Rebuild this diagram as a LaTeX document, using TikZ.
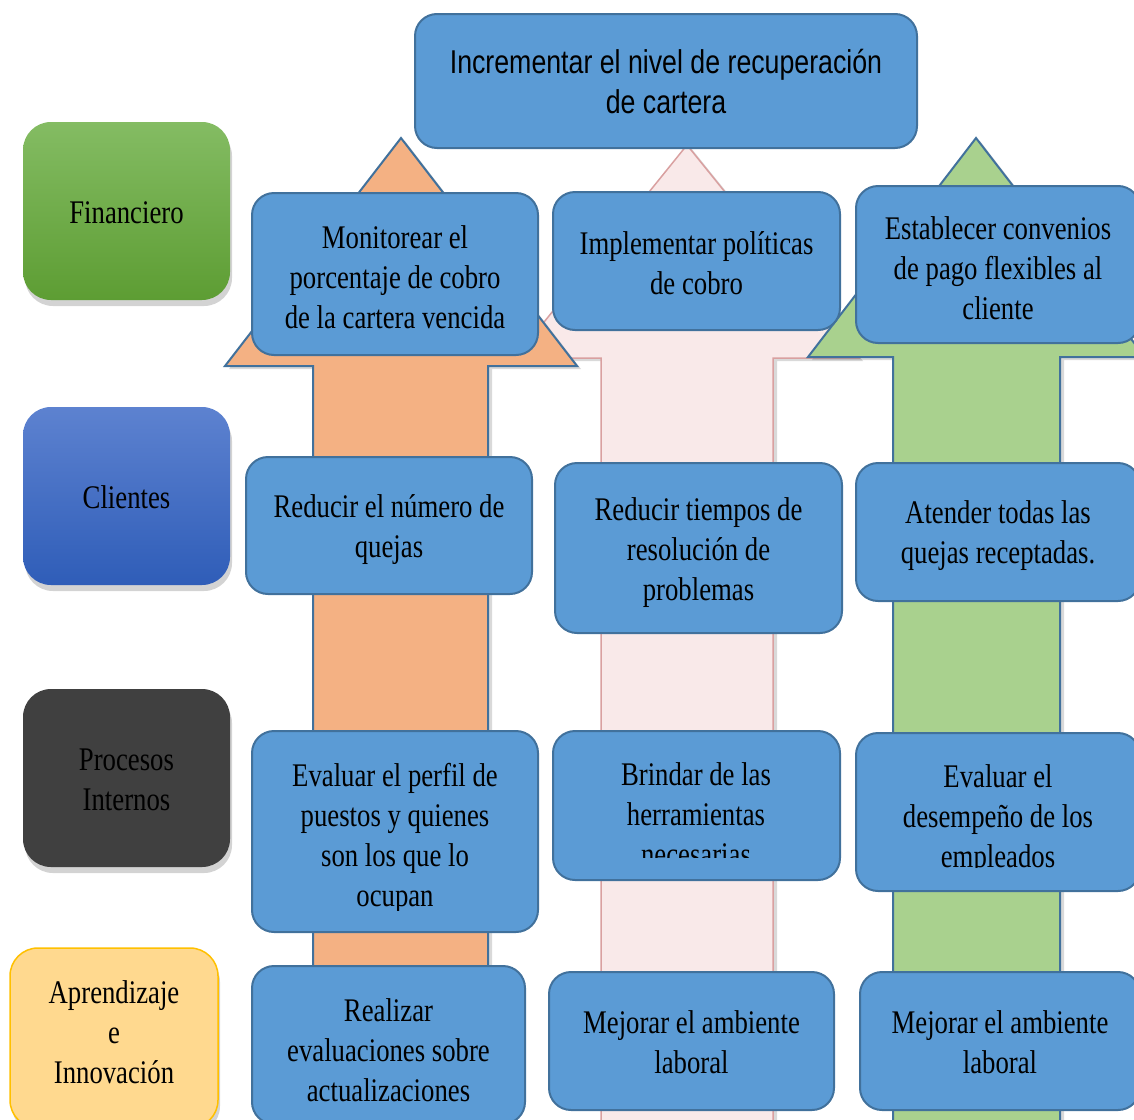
\documentclass[tikz,border=0pt]{standalone}
\usepackage{fontspec}
\setmainfont{Liberation Serif}[FakeStretch=0.81]
\newfontfamily\topfont{Liberation Sans}[FakeStretch=0.81]
\usetikzlibrary{shadows}
\definecolor{boxblue}{HTML}{5B9BD5}
\definecolor{boxedge}{HTML}{41719C}
\definecolor{orangeF}{HTML}{F4B183}
\definecolor{greenF}{HTML}{A9D18E}
\definecolor{pinkF}{HTML}{F9E9E9}
\definecolor{pinkE}{HTML}{D9A0A0}
\definecolor{finTop}{HTML}{84BC63}
\definecolor{finBot}{HTML}{5D9D33}
\definecolor{cliTop}{HTML}{5D82D0}
\definecolor{cliBot}{HTML}{2F5DB8}
\definecolor{proF}{HTML}{404040}
\definecolor{aprF}{HTML}{FFD98F}
\definecolor{aprE}{HTML}{FFC000}
\tikzset{
  bluebox/.style={draw=boxedge, line width=2pt, fill=boxblue, rounded corners=22pt,
    inner sep=0pt},
  txt/.style={align=center, inner sep=0pt, font=\fontsize{33}{40}\selectfont},
  catbox/.style={rounded corners=28pt, inner sep=0pt,
    minimum width=207pt, minimum height=178pt,
    drop shadow={shadow xshift=2pt, shadow yshift=-6pt, opacity=.35}},
  arrowshape/.style={line width=2pt, line join=miter,
    drop shadow={shadow xshift=4pt, shadow yshift=-3pt, opacity=.3}}
}
\begin{document}
\begin{tikzpicture}[x=1pt,y=-1pt]
\useasboundingbox (0,0) rectangle (1134,1119);
\clip (0,0) rectangle (1134,1119);

% arrows
\filldraw[arrowshape, fill=pinkF, draw=pinkE, line width=1.5pt]
  (687,145) -- (859,358) -- (773,358) -- (773,1140) -- (601,1140) -- (601,358) -- (515,358) -- cycle;
\filldraw[arrowshape, fill=orangeF, draw=boxedge]
  (401,138) -- (577,366) -- (488,366) -- (488,1140) -- (313,1140) -- (313,366) -- (225,366) -- cycle;
\filldraw[arrowshape, fill=greenF, draw=boxedge]
  (976,138) -- (1145,357) -- (1060,357) -- (1060,1140) -- (893,1140) -- (893,357) -- (808,357) -- cycle;

% category labels
\node[catbox, top color=finTop, bottom color=finBot] (fin) at (126.5,211) {};
\node[txt] (fint) at (126.5,213) {Financiero};
\node[catbox, top color=cliTop, bottom color=cliBot] (cli) at (126.5,496) {};
\node[txt] (clit) at (126.5,497) {Clientes};
\node[catbox, fill=proF] (pro) at (126.5,778) {};
\node[txt] (prot) at (126.5,780) {Procesos\\Internos};
\node[catbox, fill=aprF, draw=aprE, line width=1.5pt, minimum width=208pt, minimum height=180pt] (apr) at (114,1038) {};
\node[txt] (aprt) at (114,1032) {Aprendizaje\\e\\Innovación};

% top goal
\node[bluebox, minimum width=502pt, minimum height=134pt] (goal) at (666,81) {};
\node[txt, font=\topfont\fontsize{33}{40}\selectfont] (goalt) at (666,82)
  {Incrementar el nivel de recuperación\\de cartera};

% column 1
\node[bluebox, minimum width=286pt, minimum height=162pt] (a1) at (395,274) {};
\node[txt] (a1t) at (395,277) {Monitorear el\\porcentaje de cobro\\de la cartera vencida};
\node[bluebox, minimum width=286pt, minimum height=137pt] (a2) at (389,525.5) {};
\node[txt] (a2t) at (389,529.5) {Reducir el número de\\quejas};
\node[bluebox, minimum width=286pt, minimum height=201pt] (a3) at (395,831.5) {};
\begin{scope}
  \clip (252,731) rectangle (538,910);
  \node[txt] (a3t) at (395,838) {Evaluar el perfil de\\puestos y quienes\\son los que lo\\ocupan};
\end{scope}
\node[bluebox, minimum width=273pt, minimum height=158pt] (a4) at (388.5,1045) {};
\node[txt] (a4t) at (388.5,1050) {Realizar\\evaluaciones sobre\\actualizaciones};

% column 2
\node[bluebox, minimum width=287pt, minimum height=138pt] (b1) at (696.5,261) {};
\node[txt] (b1t) at (696.5,263) {Implementar políticas\\de cobro};
\node[bluebox, minimum width=287pt, minimum height=170pt] (b2) at (698.5,548) {};
\node[txt] (b2t) at (698.5,553) {Reducir tiempos de\\resolución de\\problemas};
\node[bluebox, minimum width=287pt, minimum height=149pt] (b3) at (696.5,805.5) {};
\begin{scope}
  \clip (553,731) rectangle (840,857);
  \node[txt] (b3t) at (696,814) {Brindar de las\\herramientas\\necesarias};
\end{scope}
\node[bluebox, minimum width=285pt, minimum height=138pt] (b4) at (691.5,1041) {};
\node[txt] (b4t) at (691.5,1042) {Mejorar el ambiente\\laboral};

% column 3
\node[bluebox, minimum width=284pt, minimum height=157pt] (c1) at (998,264.5) {};
\node[txt] (c1t) at (998,268.5) {Establecer convenios\\de pago flexibles al\\cliente};
\node[bluebox, minimum width=284pt, minimum height=138pt] (c2) at (998,532) {};
\node[txt] (c2t) at (998,536) {Atender todas las\\quejas receptadas.};
\node[bluebox, minimum width=284pt, minimum height=158pt] (c3) at (998,812) {};
\begin{scope}
  \clip (856,733) rectangle (1140,867);
  \node[txt] (c3t) at (998,820) {Evaluar el\\desempeño de los\\empleados};
\end{scope}
\node[bluebox, minimum width=280pt, minimum height=138pt] (c4) at (1000,1041) {};
\node[txt] (c4t) at (1000,1042) {Mejorar el ambiente\\laboral};
\end{tikzpicture}
\end{document}
